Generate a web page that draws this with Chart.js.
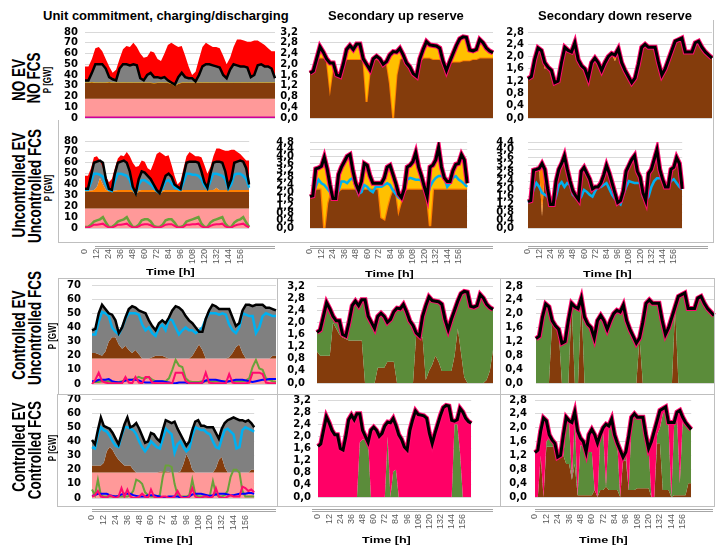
<!DOCTYPE html>
<html>
<head>
<meta charset="utf-8">
<script src="https://cdn.jsdelivr.net/npm/chart.js@4.4.1/dist/chart.umd.min.js"></script>
<style>
  body { margin: 0; background: #fff; }
  #fig { position: relative; width: 719px; height: 546px; overflow: hidden; background: #fff; font-family: "Liberation Sans", Arial, sans-serif; }
  .t { position: absolute; white-space: nowrap; font-weight: bold; color: #000; text-align: center; }
  .rot { position: absolute; width: 200px; text-align: center; white-space: nowrap; font-weight: bold; color: #000; }
  .box { position: absolute; border: 1px solid #bfbfbf; box-sizing: border-box; }
  .ax { position: absolute; height: 2px; border-top: 1px solid #a6a6a6; border-bottom: 1px solid #a6a6a6; box-sizing: border-box; }
</style>
</head>
<body>
<div id="fig"></div>
<script>
// time axis, every 3 hours
const hours = [0,3,6,9,12,15,18,21, 24,27,30,33,36,39,42,45, 48,51,54,57,60,63,66,69, 72,75,78,81,84,87,90,93,
  96,99,102,105,108,111,114,117, 120,123,126,129,132,135,138,141, 144,147,150,153,156,159,162,165];

// y tick labels
const ticks80 = [0,10,20,30,40,50,60,70,80];
const ticks70 = [0,10,20,30,40,50,60,70];
const ticks32 = [0,0.4,0.8,1.2,1.6,2.0,2.4,2.8,3.2];
const ticks48 = [0,0.4,0.8,1.2,1.6,2.0,2.4,2.8,3.2,3.6,4.0,4.4,4.8];
const ticks28 = [0,0.4,0.8,1.2,1.6,2.0,2.4,2.8];
const ticks44 = [0,0.4,0.8,1.2,1.6,2.0,2.4,2.8,3.2,3.6,4.0,4.4];

// ---- unit commitment (GW) ----
const capacity = [48,48,55,65,66,62,55,48, 42,45,55,64,67,66,70,66, 60,56,57,62,61,55,53,60, 68,70,68,66,67,58,48,40,
  43,55,66,70,68,66,66,65, 58,50,56,66,73,73,72,71, 71,72,72,70,68,65,62,62];
const baseBand = [18,18,18,18,18,18,18,18, 18,18,18,18,18,18,18,18, 18,18,18,18,18,18,18,18, 18,18,18,18,18,18,18,18,
  18,18,18,18,18,18,18,18, 18,18,18,18,18,18,18,18, 18,18,18,18,18,18,18,18];
const zeroLine = [0,0,0,0,0,0,0,0, 0,0,0,0,0,0,0,0, 0,0,0,0,0,0,0,0, 0,0,0,0,0,0,0,0,
  0,0,0,0,0,0,0,0, 0,0,0,0,0,0,0,0, 0,0,0,0,0,0,0,0];

const demandNoEv = [35,35,42,50,50,50,46,38, 36,35,46,50,50,49,50,49, 37,35,40,42,38,38,37,38, 35,33,31,38,42,38,37,37,
  34,40,48,50,50,49,48,47, 40,37,45,50,49,48,48,47, 38,40,49,50,48,48,46,37];
const brownNoEv = [33,33,33.5,33,33,33,33,33.5, 33,33,33,33,33,33,33,33, 33,33,33,33,32.5,33,33,33, 33,32,30,32,33,33,33,33,
  33,33,33,33,33,33,33,33, 33,33,33,33,33,33,33,33, 33,33,33,33,33,33,33,33];

const demandUnc = [36,36,48,60,61,62,60,45, 36,35,50,60,61,62,60,52, 38,32,45,52,51,48,45,40, 35,32,40,48,50,47,40,38,
  36,48,60,61,61,61,60,52, 42,37,50,60,61,61,60,52, 38,45,60,61,62,61,55,40];
const blueUnc = [35,35,42,50,50,49,47,40, 35,34,43,50,50,49,48,44, 36,32,40,44,44,42,40,37, 34,32,37,43,44,41,37,36,
  35,42,50,50,49,49,48,45, 39,36,43,50,50,49,48,45, 36,40,49,50,50,48,45,37];
const brownUnc = [33,33,33,33,33,33,33,33, 33,33,33,33,33,33,33,33, 33,31.5,33,33,33,33,33,33, 33,31.5,33,33,33,33,33,33,
  33,33,33,33,33,33,33,33, 33,33,33,33,33,33,33,33, 33,33,33,33,33,33,33,33];
const orangeUnc = [34.5,34.5,34.5,35,38,46,40,35, 34.5,34,34.5,35,35,35,35,35, 35,32,34.5,35,35,35,35,35, 34,32,34.5,35,35,35,35,35,
  34.5,35,35,35,35,35,35,35, 35,35,35,35,37,35,35,35, 35,35,35,35,35,35,35,35];
const greenUnc = [1,1,3,6,7,8,10,5, 1,1,3,6,7,8,10,5, 1,1,3,7,8,8,6,2, 1,1,3,7,8,8,5,1,
  1,2,6,7,8,9,10,4, 1,1,5,7,8,9,10,4, 1,1,5,7,8,10,5,1];
const pinkUnc = [0.5,0.5,1.5,3,3,3.5,4,2, 0.5,0.5,1.5,3,3,3.5,4,2, 0.5,0.5,1.5,3,3.5,3.5,2.5,1, 0.5,0.5,1.5,3,3.5,3.5,2,0.5,
  0.5,1,3,3,3.5,3.5,4,1.5, 0.5,0.5,2,3,3.5,3.5,4,1.5, 0.5,0.5,2,3,3.5,4,2,0.5];

const demandCtr = [38,39,50,56,53,50,49,45, 36,40,47,53,55,54,52,51, 50,45,41,38,43,45,43,47, 52,55,54,52,48,45,43,40,
  37,37,46,52,56,55,53,53, 53,53,47,41,43,52,56,56, 55,56,56,56,54,54,53,52];
const blueCtr = [35,35,44,51,50,48,40,37, 35,40,46,50,50,50,49,42, 38,40,36,34,40,42,38,46, 45,40,35,38,40,38,38,36,
  38,40,46,50,50,50,49,50, 49,42,38,36,40,50,49,48, 48,36,40,48,50,49,48,48];
const brownCtr = [22,22,21,20,23,30,33,33, 28,25,27,24,22,24,21,18, 18,18,19,20,20,20,19,18, 18,18,18,18,18,18,20,24,
  28,24,18,18,18,18,18,18, 18,19,22,26,28,22,18,18, 18,18,18,18,18,18,20,20];
const greenCtr = [1.5,1.5,1.5,2,2,2,1.5,1.5, 1.5,2,2.5,3,3,4,5,4, 4,5,3,2,2,2,2,4, 10,17,13,12,4,2,1.5,1.5,
  1.5,2,2,2,1.5,2,2,2, 2,2,2,2,2,2,2.5,4, 12,17,11,10,4,3,2,1.5];
const pinkCtr = [0,3,8,2,1,0.5,0.5,0.5, 0.5,0.5,5,1,0.5,5,1,0.5, 5,5,1,0.5,0.5,0.5,0.5,0.5, 0.5,8,8,8,2,0.5,0.5,0.5,
  0.5,1,8,1,0.5,0.5,0.5,0.5, 0.5,7,1,0.5,0.5,0.5,0.5,1, 8,8,8,7,1,0.5,0.5,0.5];
const navyCtr = [2,2,3,3,3,3.5,2,1.5, 1,1.5,2.5,3,3,3,2.5,1.5, 1,1,1,2,2,2,1.5,1, 0.5,0.5,1,1,1,0.5,0.5,0.5,
  0.5,1,2.5,3,3,3,2.5,2, 1.5,2,2.5,3,3,3,2.5,2, 1.5,2,2.5,3,3,3.5,3.5,3.5];

const demandCc = [41,38,48,57,51,50,49,46, 42,38,45,52,57,50,51,53, 49,44,39,40,46,45,42,40, 48,55,54,53,54,49,45,41,
  37,40,48,54,55,51,51,50, 50,50,46,42,49,53,55,56, 57,56,55,55,54,55,53,50];
const blueCc = [36,35,45,50,48,47,44,40, 37,36,44,50,50,49,48,45, 40,36,33,36,40,38,36,35, 42,49,47,45,32,38,40,36,
  33,35,44,50,49,48,48,46, 45,40,36,35,42,48,49,47, 45,35,36,48,50,49,48,47];
const brownCc = [23,23,23,23,25,33,36,34, 30,27,25,23,23,23,20,18, 18,18,18,18,18,18,18,18.5, 19,19,18.5,18,18,18,19,24,
  31,27,20,18,18,18,18,18, 18,18,21,27,29,22,18,18, 18,18,18,18,18,18,20,20];
const greenCc = [6,2,13,2,1,1,1,1, 1,1,1,1,1,2,5,13, 12,10,4,2,1,1,1,2, 15,23,23,22,10,2,1,1,
  1,2,13,3,1,1,1,1, 2,12,3,1,1,2,5,15, 20,20,18,5,1,1,1,1];
const pinkCc = [1,2,5,1,0.5,0,2,1, 0,1,7,1,6,1,0,0, 1,3,1,0,6,1,0,0, 1,1,0,0,1,5,1,0,
  0,1,7,1,0,0,1,1, 0,1,7,1,0,0,1,2, 1,1,1,8,7,5,6,4];
const navyCc = [1.5,2,3,3,3,3,2,1.5, 1,1.5,2.5,3,3,3,2,1.5, 1,1,1,2,2,2,1.5,1, 0.5,0.5,1,1,1,1,0.5,0.5,
  0.5,1,2.5,3,3,3,2.5,2, 1.5,2,2.5,3,3,3,2.5,2, 2,2.5,3,3,3,3.5,3.5,3];

// ---- secondary up reserve (GW) ----
const upReq = [1.67,1.75,2.2,2.65,2.45,2.2,2.05,2.05, 1.6,1.55,2.0,2.55,2.7,2.55,2.75,2.75, 2.2,2.0,1.8,2.2,2.3,2.2,2.0,2.1,
  2.35,2.47,2.45,2.59,2.35,2.05,1.9,1.65, 1.55,2.2,2.55,2.84,2.72,2.7,2.68,2.6, 2.1,1.76,2.1,2.4,2.7,2.95,3.02,3.0,
  2.53,2.5,2.55,2.92,2.8,2.6,2.49,2.43];
const upBrownNoEv = [1.67,1.75,2.2,2.25,2.25,2.2,1.1,2.0, 1.6,1.55,2.0,2.2,2.2,2.2,2.2,2.2, 2.2,0.6,1.8,2.2,2.2,2.15,2.0,2.1,
  1.3,0,1.6,2.2,2.25,2.05,1.9,1.65, 1.55,2.1,2.25,2.25,2.25,2.2,2.2,2.2, 2.1,1.76,2.05,2.1,2.1,2.1,2.15,2.15,
  2.15,2.2,2.2,2.25,2.25,2.25,2.25,2.25];
const upReqUnc = [1.75,1.8,3.3,3.35,3.45,3.95,3.3,2.4, 1.65,1.65,3.0,3.4,3.7,4.0,4.1,3.2, 2.5,2.1,2.6,3.6,3.5,2.9,2.5,2.5,
  2.5,2.5,2.8,3.4,3.5,3.0,2.5,1.9, 1.7,2.2,3.4,3.5,3.7,4.2,3.4,2.9, 2.3,1.75,3.4,3.5,3.8,4.5,3.4,2.8,
  2.6,2.6,3.2,3.55,3.6,4.1,3.8,2.5];
const upBlueUnc = [1.75,1.8,2.3,2.7,2.5,2.4,2.2,2.0, 1.65,1.65,2.1,2.6,2.6,2.5,2.7,2.8, 2.3,1.9,2.0,2.4,2.3,2.1,2.0,2.3,
  2.3,2.3,2.4,2.5,2.4,2.1,1.9,1.7, 1.6,2.1,2.7,2.8,2.75,2.7,2.7,2.65, 2.2,1.75,2.3,2.6,2.8,2.9,2.9,2.8,
  2.3,2.5,2.8,2.9,2.7,2.6,2.45,2.3];
const upBrownUnc = [1.75,1.8,2.2,2.2,2.2,0,1.4,2.0, 1.65,1.65,2.1,2.2,2.2,2.2,2.2,2.2, 2.2,2.0,2.2,2.2,2.2,2.2,2.2,2.2,
  2.2,0.6,0.5,1.2,1.8,2.2,2.2,1.0, 1.6,2.1,2.2,2.2,2.2,2.2,2.2,2.2, 2.2,1.75,0.1,2.2,2.2,2.2,2.2,2.2,
  2.2,2.2,2.2,2.2,2.2,2.2,2.2,2.2];
const upBrownCtr = [1.04,0.9,0.9,0.9,0.9,2.0,1.8,1.6, 1.5,1.45,1.4,1.4,1.4,1.4,1.4,0, 0,0,0,0.5,0.5,0.5,0.7,0.7,
  0.7,0,0,0,0,0,0,1.6, 1.5,1.5,0.1,0.4,0.6,0.9,0.7,0.4, 0.4,0.4,0.4,0.9,1.8,1.0,0.2,0, 0,0,0,0,0,0.1,0.4,1.1];
const upGreenCc = [0,0,0,0,0,0,0,0, 0,0,0,0,0,0,0,1.8, 1.9,1.9,1.85,0,0,0,0,0, 0,2.0,0,0.85,0.9,0,0,0,
  0,0,0,0,0,0,0,0, 0,0,0,0,0,0,0,0, 0,2.4,2.4,1.45,0,0,0,0];

// ---- secondary down reserve (GW) ----
const downReq = [1.28,1.35,1.9,2.28,2.2,1.8,1.65,1.55, 1.15,1.2,1.8,2.3,2.2,2.15,2.45,1.9, 1.7,1.6,1.3,1.8,1.95,1.8,1.55,1.8,
  2.0,2.1,2.05,2.25,1.8,1.55,1.35,1.15, 1.3,1.75,2.3,2.4,2.3,2.3,2.3,1.8, 1.4,1.6,1.9,2.2,2.5,2.55,2.6,2.15,
  2.15,2.15,2.45,2.5,2.3,2.15,2.05,1.95];
const downBrownNoEv = [1.28,1.35,1.9,2.28,2.2,1.6,1.65,1.55, 1.15,1.2,1.8,2.3,2.2,2.15,2.45,1.9, 1.7,1.6,1.2,1.8,1.95,1.8,1.55,1.8,
  2.0,2.1,1.85,2.25,1.8,1.55,1.35,1.15, 1.3,1.75,2.3,2.4,2.3,2.3,2.3,1.8, 1.4,1.6,1.9,2.2,2.5,2.55,2.5,2.15,
  2.15,2.15,2.45,2.4,2.3,2.15,2.05,1.95];
const downReqUnc = [1.35,1.4,2.96,3.0,3.05,3.3,3.0,2.0, 1.2,1.2,2.4,3.0,3.3,3.7,3.0,2.4, 1.9,1.65,1.45,2.9,3.1,2.8,2.5,2.0,
  2.1,2.1,2.3,2.7,3.2,2.8,2.3,1.8, 1.3,1.4,1.9,2.9,3.2,3.5,3.7,2.9, 2.6,1.8,1.4,2.8,3.0,3.5,4.0,3.0,
  2.5,2.1,2.1,3.0,3.1,3.6,3.3,2.0];
const downBlueUnc = [1.3,1.4,2.0,2.3,2.1,1.8,1.7,1.6, 1.2,1.2,1.6,2.2,2.35,2.1,2.3,2.2, 1.7,1.55,1.4,1.6,1.95,1.85,1.7,1.6,
  1.9,2.1,2.1,2.2,2.3,2.0,1.7,1.5, 1.3,1.2,1.7,2.1,2.4,2.35,2.3,2.3, 2.3,1.6,1.4,1.6,2.1,2.4,2.55,2.55,
  2.5,2.2,2.2,2.4,2.5,2.3,2.1,2.0];
const downBrownUnc = [1.35,1.4,2.9,2.95,3.0,0.6,2.9,2.0, 1.2,1.2,2.4,2.95,3.2,3.55,3.0,2.4, 1.9,1.65,1.45,2.85,3.05,2.8,2.5,2.0,
  2.1,2.1,2.3,2.65,3.05,2.8,2.3,1.8, 1.3,1.4,1.9,2.85,3.1,3.4,3.6,2.9, 2.6,1.8,1.4,2.75,2.95,3.4,3.85,3.0,
  2.5,2.1,2.1,2.95,3.05,3.45,3.3,2.0];
const downBrownCtr = [0,0,0,0,0,1.8,1.65,1.55, 0,0,0,2.3,0,0,2.45,0, 0,0,0,0,0,0,0,0, 0,0,0,0,0,0,0,0,
  1.3,0,0,0,0,0,0,0, 0,0,0,2.2,0,0,0,0, 0,0,0,0,0,0,0,0];
const downBrownCc = [0,0,1.2,0,1.45,1.45,1.45,1.45, 1.15,1.2,1.2,0.95,0.95,0.5,0.95,0.05, 0.05,0.05,0.05,0.05,0.05,0.2,0,0.2,
  0.2,0.3,0.2,0.2,0.2,0.2,0,1.05, 1.05,0.2,0.2,0.2,0.25,0.25,0.25,0.25, 0.25,0,0,1.55,1.55,0.2,0.2,0.2,
  0,0.05,0.05,0.05,0.05,0.05,0.4,0.4];
const downGreenCc = [0,0,1.2,0,1.6,1.7,1.65,1.55, 1.15,1.2,1.2,2.1,2.15,0.5,2.3,0.05, 1.5,1.45,1.3,1.3,1.3,0.2,0,1.75,
  1.9,0.3,1.95,2.1,1.75,1.5,0,1.1, 1.25,0.2,2.2,2.35,2.25,2.25,2.2,1.7, 1.4,0,0,1.8,2.0,2.4,2.5,2.1,
  0,2.1,2.3,0.4,2.2,2.1,2.0,1.95];

const RED = '#ff0000', GRAY = '#808080', BROWN = '#843c0c', SALMON = '#ff9999', ORANGE = '#ff7f00',
  YELLOW = '#ffc000', BLUE = '#00b0f0', GREENL = '#6aa13a', GREENA = '#5b8c3a', PINK = '#ff0a6e', NAVY = '#0000ff';

const line = (data, color, w) => ({ data, borderColor: color, borderWidth: w, backgroundColor: 'transparent', fill: false });
const area = (data, color, to, edge, ew) => ({ data, backgroundColor: color, borderColor: edge || 'transparent', borderWidth: ew || 0, fill: to });
const req = data => [line(data, '#000', 3), line(data, PINK, 5)];

const fig = document.getElementById('fig');

function panel(p) {
  const c = document.createElement('canvas');
  const xH = p.showX ? 42 : 0;
  const bPad = p.showX ? 0 : 7;
  const w = p.r - p.l + p.axisW + 6;
  const h = p.b - p.t + 7 + xH + bPad;
  c.width = w; c.height = h;
  c.style.cssText = `position:absolute;left:${p.l - p.axisW}px;top:${p.t - 7}px;width:${w}px;height:${h}px`;
  fig.appendChild(c);
  new Chart(c, {
    type: 'line',
    data: { labels: hours, datasets: p.sets },
    options: {
      responsive: false,
      animation: false,
      layout: { padding: { top: 7, right: 6, left: 0, bottom: bPad } },
      plugins: { legend: { display: false }, tooltip: { enabled: false } },
      elements: { point: { radius: 0 }, line: { tension: 0 } },
      scales: {
        x: {
          display: !!p.showX,
          grid: { display: false, drawTicks: false },
          border: { display: false },
          ticks: {
            autoSkip: false, minRotation: 90, maxRotation: 90, padding: p.xPad || 20,
            font: { family: 'Liberation Sans', size: 9 }, color: '#595959',
            callback: (v, i) => i % 4 === 0 ? String(hours[i]) : ''
          },
          afterFit: s => { s.height = xH; }
        },
        y: {
          min: p.ticks[0],
          max: p.ticks[p.ticks.length - 1],
          afterBuildTicks: s => { s.ticks = p.ticks.map(v => ({ value: v })); },
          afterFit: s => { s.width = p.axisW; },
          // the gap between labels and plot is an invisible tick mark, so it does not pad the axis vertically
          grid: { color: '#d9d9d9', drawTicks: true, tickLength: p.pad, tickColor: 'rgba(0,0,0,0)' },
          border: { display: false },
          ticks: {
            autoSkip: false, padding: 0,
            font: { family: 'DejaVu Sans', size: 10, weight: 'bold' }, color: '#000',
            callback: v => p.dec ? v.toFixed(1).replace('.', ',') : String(v)
          }
        }
      }
    }
  });
}

// row 1: NO EV / NO FCS
panel({ l: 85, r: 275, t: 32, b: 118, axisW: 28, pad: 7, ticks: ticks80, sets: [
  line(demandNoEv, '#000', 2.5), line(zeroLine, '#cc0099', 3),
  area(capacity, RED, 0), area(demandNoEv, GRAY, 4), area(brownNoEv, BROWN, 5, YELLOW, 1), area(baseBand, SALMON, 'origin')] });
panel({ l: 310, r: 493, t: 32, b: 118, axisW: 32, pad: 12, dec: true, ticks: ticks32, sets: [
  ...req(upReq), area(upReq, YELLOW, 3), area(upBrownNoEv, BROWN, 'origin', ORANGE, 2)] });
panel({ l: 528, r: 712, t: 32, b: 118, axisW: 24, pad: 4, dec: true, ticks: ticks28, sets: [
  ...req(downReq), area(downReq, ORANGE, 3), area(downBrownNoEv, BROWN, 'origin')] });

// row 2: Uncontrolled EV / Uncontrolled FCS
panel({ l: 85, r: 275, t: 141, b: 228, axisW: 28, pad: 7, ticks: ticks80, showX: true, xPad: 21, sets: [
  line(demandUnc, '#000', 2.5), line(blueUnc, BLUE, 2.5), line(pinkUnc, PINK, 2), line(greenUnc, GREENL, 2.5),
  area(capacity, RED, 0), area(demandUnc, GRAY, 6), area(orangeUnc, ORANGE, 7), area(brownUnc, BROWN, 8), area(baseBand, SALMON, 'origin')] });
panel({ l: 310, r: 493, t: 142, b: 228, axisW: 34, pad: 16, dec: true, ticks: ticks48, showX: true, xPad: 21, sets: [
  ...req(upReqUnc), line(upBlueUnc, BLUE, 2.5), area(upReqUnc, YELLOW, 4), area(upBrownUnc, BROWN, 'origin', ORANGE, 2.5)] });
panel({ l: 528, r: 708, t: 142, b: 228, axisW: 32, pad: 14, dec: true, ticks: ticks44, showX: true, xPad: 21, sets: [
  ...req(downReqUnc), line(downBlueUnc, BLUE, 2.5), area(downReqUnc, ORANGE, 4), area(downBrownUnc, BROWN, 'origin')] });

// row 3: Controlled EV / Uncontrolled FCS
panel({ l: 92, r: 276, t: 285, b: 384, axisW: 36, pad: 11, ticks: ticks70, sets: [
  line(demandCtr, '#000', 2.5), line(blueCtr, BLUE, 2.5), line(pinkCtr, PINK, 2), line(navyCtr, NAVY, 2), line(greenCtr, GREENL, 2),
  area(demandCtr, GRAY, 6), area(brownCtr, BROWN, 7), area(baseBand, SALMON, 'origin')] });
panel({ l: 317, r: 493, t: 286, b: 383, axisW: 32, pad: 12, dec: true, ticks: ticks32, sets: [
  ...req(upReq), area(upReq, GREENA, 3), area(upBrownCtr, BROWN, 'origin')] });
panel({ l: 536, r: 714, t: 286, b: 383, axisW: 32, pad: 13, dec: true, ticks: ticks28, sets: [
  ...req(downReq), area(downReq, GREENA, 3), area(downBrownCtr, BROWN, 'origin')] });

// row 4: Controlled EV / Controlled FCS
panel({ l: 92, r: 276, t: 399, b: 498, axisW: 36, pad: 11, ticks: ticks70, showX: true, xPad: 17, sets: [
  line(demandCc, '#000', 2.5), line(blueCc, BLUE, 2.5), line(pinkCc, PINK, 2), line(navyCc, NAVY, 2), line(greenCc, GREENL, 2),
  area(demandCc, GRAY, 6), area(brownCc, BROWN, 7), area(baseBand, SALMON, 'origin')] });
panel({ l: 318, r: 493, t: 400, b: 497, axisW: 28, pad: 7, dec: true, ticks: ticks32, showX: true, xPad: 17, sets: [
  ...req(upReq), area(upReq, '#ff0066', 3), area(upGreenCc, GREENA, 'origin')] });
panel({ l: 535, r: 713, t: 400, b: 497, axisW: 30, pad: 8, dec: true, ticks: ticks28, showX: true, xPad: 17, sets: [
  ...req(downReq), area(downReq, '#ff0066', 3), area(downGreenCc, GREENA, 4), area(downBrownCc, BROWN, 'origin')] });

// texts, frames, axis rules
function text(cls, txt, x, y, css) {
  const d = document.createElement('div');
  d.className = cls;
  d.textContent = txt;
  d.style.cssText += css;
  if (cls === 'rot') { d.style.left = (x - 100) + 'px'; d.style.top = y + 'px'; }
  fig.appendChild(d);
  if (cls === 't') { d.style.left = (x - d.offsetWidth / 2) + 'px'; d.style.top = (y - d.offsetHeight / 2) + 'px'; }
  return d;
}
function rect(cls, x, y, w, h, css) {
  const d = document.createElement('div');
  d.className = cls;
  d.style.cssText = `left:${x}px;top:${y}px;width:${w}px;height:${h}px;` + (css || '');
  fig.appendChild(d);
}

rect('box', 58, 120, 220, 123, 'border-top:none;border-right:none');
rect('box', 277, 120, 221, 123, 'border-top:none;border-right:none;border-left:none');
rect('box', 497, 20, 217, 223, 'border-top:none;border-left:none');
rect('box', 58, 278, 220, 117);
rect('box', 277, 278, 224, 117, 'border-left:none');
rect('box', 500, 278, 215, 117, 'border-left:none');
rect('box', 57, 394, 221, 113);
rect('box', 277, 394, 224, 113, 'border-left:none');
rect('box', 500, 394, 215, 113, 'border-left:none');

rect('ax', 95, 246, 180, 3);
rect('ax', 310, 246, 183, 3);
rect('ax', 528, 246, 180, 3);
rect('ax', 92, 509, 184, 3);
rect('ax', 312, 509, 181, 3);
rect('ax', 535, 509, 178, 3);

text('t', 'Unit commitment, charging/discharging', 166, 15, 'font-size:13px');
text('t', 'Secondary up reserve', 396, 15, 'font-size:13px');
text('t', 'Secondary down reserve', 615, 15, 'font-size:13px');

const rowCss = 'font-size:13.5px;line-height:16px;transform:rotate(-90deg) scaleY(1.4)';
const pCss = 'font-size:8px;line-height:10px;transform:rotate(-90deg) scaleY(1.3)';
text('rot', 'NO EV', 19, 72, rowCss);
text('rot', 'NO FCS', 34, 70, rowCss);
text('rot', 'P [GW]', 48, 75, pCss);
text('rot', 'Uncontrolled EV', 19, 177, rowCss);
text('rot', 'Uncontrolled FCS', 35, 178, rowCss);
text('rot', 'P [GW]', 49, 183, pCss);
text('rot', 'Controlled EV', 19, 327, rowCss);
text('rot', 'Uncontrolled FCS', 35, 320, rowCss);
text('rot', 'P [GW]', 53, 331, pCss);
text('rot', 'Controlled EV', 19, 439, rowCss);
text('rot', 'Controlled FCS', 35, 442, rowCss);
text('rot', 'P [GW]', 53, 443, pCss);

const timeCss = 'font-size:9px;transform:scaleX(1.4)';
text('t', 'Time [h]', 170, 272, timeCss);
text('t', 'Time [h]', 389, 274, timeCss);
text('t', 'Time [h]', 607, 274, timeCss);
text('t', 'Time [h]', 168, 540, timeCss);
text('t', 'Time [h]', 386, 540, timeCss);
text('t', 'Time [h]', 603, 540, timeCss);
</script>
</body>
</html>
